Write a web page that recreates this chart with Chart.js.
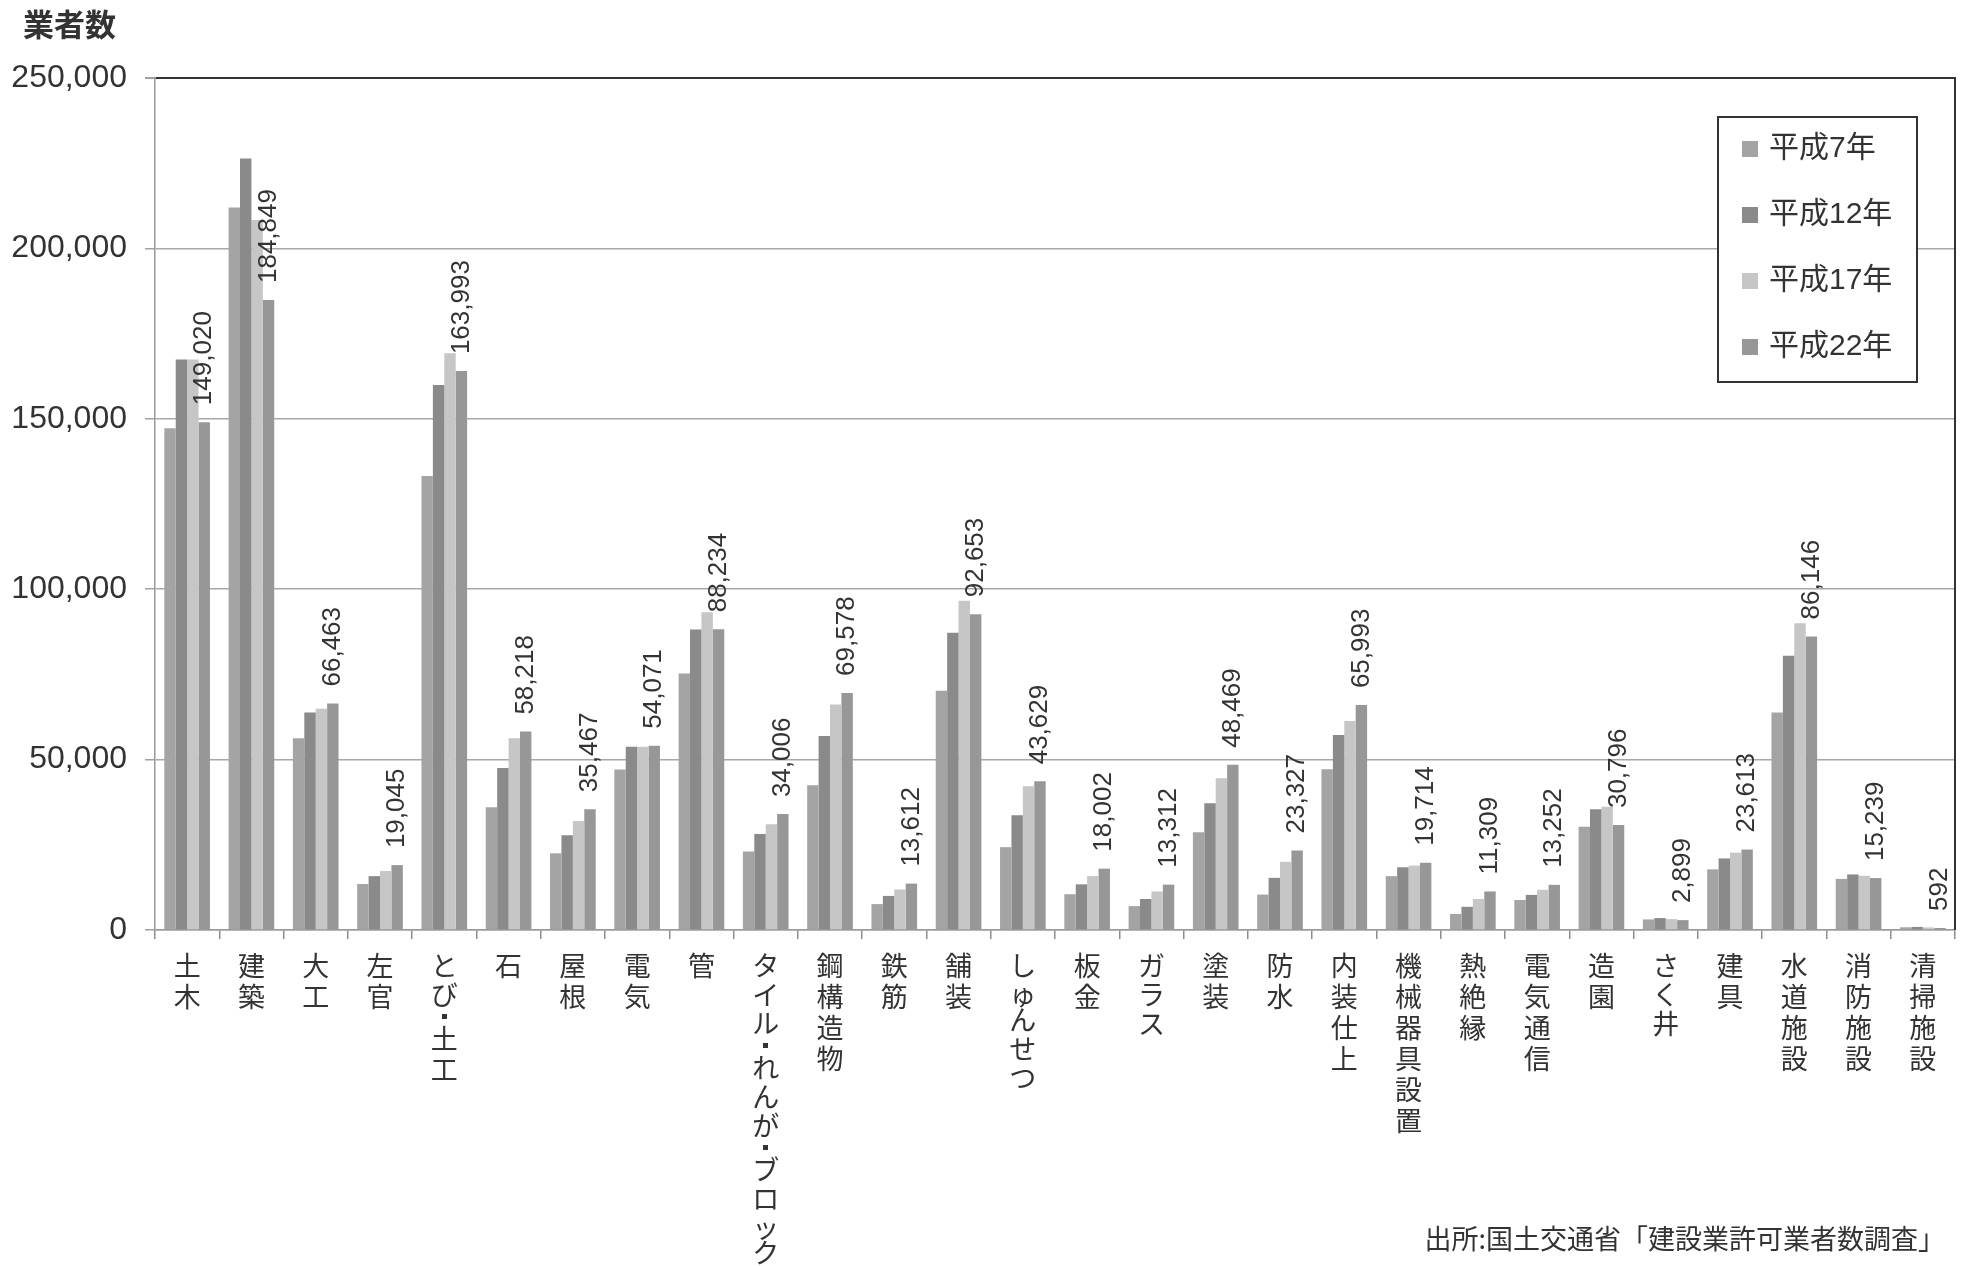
<!DOCTYPE html>
<html lang="ja">
<head>
<meta charset="utf-8">
<title>業種別 建設業許可業者数</title>
<script src="https://cdn.jsdelivr.net/npm/chart.js@4.4.1/dist/chart.umd.min.js"></script>
<style>
  html, body { margin: 0; padding: 0; background: #ffffff; }
  #wrap { width: 1967px; height: 1266px; position: relative; }
  canvas { display: block; }
</style>
</head>
<body>
<div id="wrap"><canvas id="chart" width="1967" height="1266"></canvas></div>
<script>
// 業種 (28 categories)
const categories = [
  '土木', '建築', '大工', '左官', 'とび・土工', '石', '屋根', '電気', '管',
  'タイル・れんが・ブロック', '鋼構造物', '鉄筋', '舗装', 'しゅんせつ', '板金',
  'ガラス', '塗装', '防水', '内装仕上', '機械器具設置', '熱絶縁', '電気通信',
  '造園', 'さく井', '建具', '水道施設', '消防施設', '清掃施設'
];

const seriesNames = ['平成7年', '平成12年', '平成17年', '平成22年'];

// 業者数 by year
const heisei7 = [
  147200, 212000, 56300, 13500, 133200, 36000, 22500, 47100, 75300,
  23000, 42500, 7600, 70200, 24300, 10500,
  7000, 28700, 10400, 47200, 15800, 4700, 8800,
  30300, 3100, 17800, 63800, 15000, 800
];
const heisei12 = [
  167400, 226400, 63800, 15800, 159900, 47500, 27800, 53800, 88200,
  28200, 56900, 10000, 87200, 33700, 13400,
  9100, 37200, 15300, 57200, 18400, 6800, 10300,
  35400, 3500, 21000, 80500, 16300, 900
];
const heisei17 = [
  167400, 208300, 64900, 17300, 169200, 56300, 32000, 53800, 93200,
  31000, 66200, 11900, 96600, 42200, 15800,
  11300, 44500, 20000, 61300, 18900, 9100, 11800,
  36200, 3200, 22700, 90000, 15900, 750
];
const heisei22 = [
  149020, 184849, 66463, 19045, 163993, 58218, 35467, 54071, 88234,
  34006, 69578, 13612, 92653, 43629, 18002,
  13312, 48469, 23327, 65993, 19714, 11309, 13252,
  30796, 2899, 23613, 86146, 15239, 592
];

const yTicks = [0, 50000, 100000, 150000, 200000, 250000];

const seriesColors = ['#a4a4a4', '#8a8a8a', '#c6c6c6', '#979797'];
const textColor = '#333333';
const latinFont = "'Liberation Sans', 'Noto Sans CJK JP', sans-serif";
const cjkFont = "'Noto Sans CJK JP', 'Liberation Sans', sans-serif";

const fmt = v => v.toLocaleString('en-US');

// vertical (stacked) category labels with per-glyph advance
function glyphAdvance(ch) {
  if (ch === '・') return 15;
  if ('ゃゅょっャュョッ'.indexOf(ch) >= 0) return 25;
  if (/[\u3040-\u30ff]/.test(ch)) return 29;
  return 31;
}

const verticalLabels = {
  id: 'verticalLabels',
  afterDraw(chart) {
    const { ctx, scales: { x } } = chart;
    ctx.save();
    ctx.fillStyle = textColor;
    ctx.font = '27px ' + cjkFont;
    ctx.textAlign = 'center';
    chart.data.labels.forEach((label, i) => {
      const cx = x.getPixelForValue(i);
      let y = x.top + 22;
      for (const ch of label) {
        if (ch === '・') {
          // small centred dot between two glyphs
          ctx.fillRect(Math.round(cx - 2.5), Math.round(y + 4), 5, 5);
        } else {
          ctx.textBaseline = 'top';
          ctx.fillText(ch, cx, y);
        }
        y += glyphAdvance(ch);
      }
    });
    ctx.restore();
  }
};

// value labels above the 平成22年 bars, rotated
const valueLabels = {
  id: 'valueLabels',
  afterDatasetsDraw(chart) {
    const { ctx } = chart;
    const meta = chart.getDatasetMeta(3);
    const values = chart.data.datasets[3].data;
    ctx.save();
    ctx.fillStyle = textColor;
    ctx.font = '26px ' + latinFont;
    ctx.textAlign = 'left';
    ctx.textBaseline = 'middle';
    meta.data.forEach((bar, i) => {
      ctx.save();
      ctx.translate(bar.x, bar.y - 17);
      ctx.rotate(-Math.PI / 2);
      ctx.fillText(fmt(values[i]), 0, 0);
      ctx.restore();
    });
    ctx.restore();
  }
};

// frame, axis title, legend box and source note
const decorations = {
  id: 'decorations',
  afterDraw(chart) {
    const { ctx, chartArea: a } = chart;
    ctx.save();

    // right edge of plot frame
    ctx.strokeStyle = '#333333';
    ctx.lineWidth = 2;
    ctx.beginPath();
    ctx.moveTo(a.right, a.top - 1);
    ctx.lineTo(a.right, a.bottom);
    ctx.stroke();

    // axis title
    ctx.fillStyle = textColor;
    ctx.font = 'bold 31px ' + cjkFont;
    ctx.textAlign = 'left';
    ctx.textBaseline = 'middle';
    ctx.fillText('業者数', 23, 24);

    // legend
    const bx = 1718, by = 117, bw = 199, bh = 265;
    ctx.fillStyle = '#ffffff';
    ctx.fillRect(bx, by, bw, bh);
    ctx.strokeStyle = '#333333';
    ctx.lineWidth = 2;
    ctx.strokeRect(bx, by, bw, bh);
    ctx.font = '30px ' + latinFont;
    chart.data.datasets.forEach((ds, i) => {
      const cy = by + 32 + i * 66;
      ctx.fillStyle = ds.backgroundColor;
      ctx.fillRect(bx + 24, cy - 8, 16, 16);
      ctx.fillStyle = textColor;
      ctx.fillText(ds.label, bx + 51, cy);
    });

    // source note
    ctx.font = '27px ' + cjkFont;
    ctx.textAlign = 'right';
    ctx.fillStyle = textColor;
    ctx.fillText('出所:国土交通省「建設業許可業者数調査」', 1945, 1239);

    ctx.restore();
  }
};

const seriesData = [heisei7, heisei12, heisei17, heisei22];

new Chart(document.getElementById('chart'), {
  type: 'bar',
  data: {
    labels: categories,
    datasets: seriesNames.map((name, i) => ({
      label: name,
      data: seriesData[i],
      backgroundColor: seriesColors[i],
      borderWidth: 0,
      categoryPercentage: 0.71,
      barPercentage: 1.0
    }))
  },
  options: {
    responsive: false,
    animation: false,
    devicePixelRatio: 1,
    layout: { padding: { top: 78, right: 12, left: 0, bottom: 0 } },
    plugins: {
      legend: { display: false },
      tooltip: { enabled: false },
      title: { display: false }
    },
    scales: {
      x: {
        offset: true,
        grid: {
          offset: true,
          drawOnChartArea: false,
          drawTicks: true,
          tickLength: 9,
          color: '#8c8c8c',
          lineWidth: 1.5
        },
        border: { display: true, color: '#9a9a9a', width: 1.5 },
        ticks: { display: false },
        afterFit(scale) { scale.height = 336; }
      },
      y: {
        min: 0,
        max: 250000,
        afterBuildTicks(scale) { scale.ticks = yTicks.map(v => ({ value: v })); },
        ticks: {
          color: textColor,
          padding: 18,
          font: { family: latinFont, size: 32 },
          callback: v => fmt(v)
        },
        grid: {
          drawTicks: true,
          tickLength: 10,
          tickColor: '#a0a0a0',
          color: c => (c.tick && c.tick.value === 250000 ? '#333333' : '#a8a8a8'),
          lineWidth: c => (c.tick && c.tick.value === 250000 ? 2 : 1.5)
        },
        border: { display: true, color: '#9a9a9a', width: 1.5 },
        afterFit(scale) { scale.width = 155; }
      }
    }
  },
  plugins: [valueLabels, verticalLabels, decorations]
});
</script>
</body>
</html>
